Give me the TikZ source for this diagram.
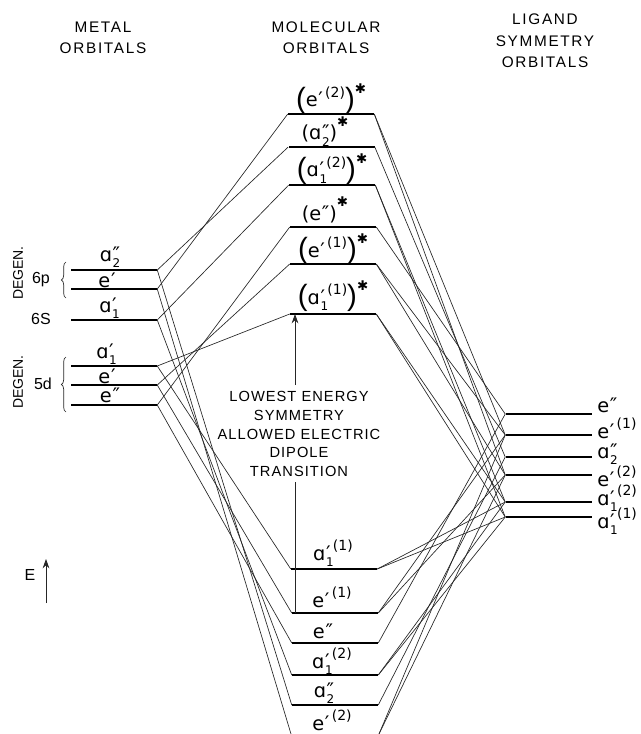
\documentclass[tikz,border=0pt]{standalone}
\usepackage{fontspec}
\setsansfont{DejaVu Sans}
\newfontfamily\capfont{Liberation Sans}
\usetikzlibrary{arrows.meta,decorations.pathreplacing}
% letter, subscript, prime, superscript
\newcommand{\orbl}[4]{#1\kern.5pt\rlap{\raisebox{-.36em}{\fontsize{9}{9}\selectfont #2}}{\fontsize{15}{15}\selectfont #3}\raisebox{.48em}{\fontsize{10.5}{10.5}\selectfont #4}}
\newcommand{\orbstar}{\raisebox{.72em}{\fontsize{10}{10}\selectfont ✱}}
\newcommand{\lbig}{\raisebox{-1pt}{\capfont\fontsize{22}{22}\selectfont(}}
\newcommand{\rbig}{\raisebox{-1pt}{\capfont\fontsize{22}{22}\selectfont)}}

\begin{document}
\begin{tikzpicture}[
  x=0.75pt,y=-0.75pt,
  level/.style={rectangle,fill=black,inner sep=0pt,minimum height=1.6pt,minimum width=64.5pt},
  conn/.style={black!85,line width=0.5pt},
  arr/.style={-{Stealth[length=7pt,width=5pt]},black!85,line width=0.6pt},
  head/.style={font=\capfont\fontsize{11.5}{16}\selectfont\addfontfeatures{LetterSpace=11},align=center,inner sep=0pt},
  note/.style={font=\capfont\fontsize{11}{14}\selectfont\addfontfeatures{LetterSpace=7},align=center,inner sep=1pt},
  orb/.style={font=\sffamily\fontsize{14.5}{17}\selectfont,inner sep=0pt,anchor=base},
  side/.style={font=\capfont\fontsize{12}{14}\selectfont,inner sep=0pt},
  degen/.style={font=\capfont\fontsize{10.5}{12}\selectfont,rotate=90,inner sep=0pt},
  brc/.style={black!85,line width=0.5pt,decorate,decoration={brace,amplitude=3.5pt}},
]
\useasboundingbox (0,0) rectangle (641,734);

% ---- column headings ----
\node[head] (hmetal) at (103,38) {METAL\\ORBITALS};
\node[head] (hmol) at (326,38) {MOLECULAR\\ORBITALS};
\node[head] (hlig) at (545,41) {LIGAND\\SYMMETRY\\ORBITALS};

% ---- metal orbitals ----
\node[level] (pa2) at (114,270) {};
\node[level] (pe1) at (114,289) {};
\node[level] (sa1) at (114,320) {};
\node[level] (da1) at (114,366) {};
\node[level] (de1) at (114,385) {};
\node[level] (de2) at (114,405) {};

\node[orb] (lpa2) at (110,261) {\orbl{ɑ}{2}{″}{}};
\node[orb] (lpe1) at (107,287) {\orbl{e}{}{′}{}};
\node[orb] (lsa1) at (108,312) {\orbl{ɑ}{1}{′}{}};
\node[orb] (lda1) at (105,358) {\orbl{ɑ}{1}{′}{}};
\node[orb] (lde1) at (107,383) {\orbl{e}{}{′}{}};
\node[orb] (lde2) at (110,402) {\orbl{e}{}{″}{}};

\node[side] (l6p) at (41,280) {6p};
\node[side] (l6s) at (41,319) {6S};
\node[side] (l5d) at (43,384) {5d};
\node[degen] (dgp) at (18,273) {DEGEN.};
\node[degen] (dgd) at (18,382) {DEGEN.};

\coordinate (bpb) at (66,298);
\coordinate (bpt) at (66,262);
\coordinate (bdb) at (66,412);
\coordinate (bdt) at (66,357);
\draw[brc] (bpb) -- (bpt);
\draw[brc] (bdb) -- (bdt);

% ---- molecular orbitals, upper set ----
\node[level] (ue2) at (331,114) {};
\node[level] (ua2) at (331.5,147) {};
\node[level] (ua12) at (332,185) {};
\node[level] (uepp) at (333,227) {};
\node[level] (ue1) at (333,264) {};
\node[level] (ua11) at (333,314) {};

\node[orb] (lue2) at (331,107) {\lbig\orbl{e}{}{′}{\,(2)}\rbig\orbstar};
\node[orb] (lua2) at (325,140) {(\orbl{ɑ}{2}{″}{})\orbstar};
\node[orb] (lua12) at (332,177) {\lbig\orbl{ɑ}{1}{′}{\,(2)}\rbig\orbstar};
\node[orb] (luepp) at (325,220) {(\orbl{e}{}{″}{})\orbstar};
\node[orb] (lue1) at (333,257) {\lbig\orbl{e}{}{′}{\,(1)}\rbig\orbstar};
\node[orb] (lua11) at (333,304) {\lbig\orbl{ɑ}{1}{′}{\,(1)}\rbig\orbstar};

% ---- molecular orbitals, lower set ----
\node[level] (wa11) at (334,569) {};
\node[level] (we1) at (335,613) {};
\node[level] (wepp) at (335,643) {};
\node[level] (wa12) at (335,675) {};
\node[level] (wa2) at (335,705) {};
\coordinate (we2l) at (291,734);
\coordinate (we2r) at (379,734);

\node[orb] (lwa11) at (333,560) {\orbl{ɑ}{1}{′}{\,(1)}};
\node[orb] (lwe1) at (332,607) {\orbl{e}{}{′}{\,(1)}};
\node[orb] (lwepp) at (323,638) {\orbl{e}{}{″}{}};
\node[orb] (lwa12) at (332,668) {\orbl{ɑ}{1}{′}{\,(2)}};
\node[orb] (lwa2) at (324,697) {\orbl{ɑ}{2}{″}{}};
\node[orb] (lwe2) at (332,730) {\orbl{e}{}{′}{\,(2)}};

% ---- ligand symmetry orbitals ----
\node[level] (gepp) at (548.5,414) {};
\node[level] (ge1) at (548.5,435) {};
\node[level] (ga2) at (548.5,457) {};
\node[level] (ge2) at (548.5,475) {};
\node[level] (ga12) at (548.5,502) {};
\node[level] (ga11) at (548.5,517) {};

\node[orb,anchor=base west] (lgepp) at (597,412) {\orbl{e}{}{″}{}};
\node[orb,anchor=base west] (lge1) at (597,438) {\orbl{e}{}{′}{\,(1)}};
\node[orb,anchor=base west] (lga2) at (597,458) {\orbl{ɑ}{2}{″}{}};
\node[orb,anchor=base west] (lge2) at (597,486) {\orbl{e}{}{′}{\,(2)}};
\node[orb,anchor=base west] (lga12) at (597,505) {\orbl{ɑ}{1}{′}{\,(2)}};
\node[orb,anchor=base west] (lga11) at (597,528) {\orbl{ɑ}{1}{′}{\,(1)}};

% ---- metal to molecular ----
\draw[conn] (pa2.east) -- (ua2.west);
\draw[conn] (pe1.east) -- (ue2.west);
\draw[conn] (sa1.east) -- (ua12.west);
\draw[conn] (da1.east) -- (ua11.west);
\draw[conn] (de1.east) -- (ue1.west);
\draw[conn] (de2.east) -- (uepp.west);
\draw[conn] (pa2.east) -- (wa2.west);
\draw[conn] (pe1.east) -- (we2l);
\draw[conn] (sa1.east) -- (wa12.west);
\draw[conn] (da1.east) -- (wa11.west);
\draw[conn] (de1.east) -- (we1.west);
\draw[conn] (de2.east) -- (wepp.west);

% ---- molecular to ligand ----
\draw[conn] (ue2.east) -- (ge1.west);
\draw[conn] (ue2.east) -- (ge2.west);
\draw[conn] (ua2.east) -- (ga2.west);
\draw[conn] (ua12.east) -- (ga12.west);
\draw[conn] (ua12.east) -- (ga11.west);
\draw[conn] (uepp.east) -- (gepp.west);
\draw[conn] (ue1.east) -- (ge1.west);
\draw[conn] (ue1.east) -- (ge2.west);
\draw[conn] (ua11.east) -- (ga12.west);
\draw[conn] (ua11.east) -- (ga11.west);
\draw[conn] (wa11.east) -- (ga12.west);
\draw[conn] (wa11.east) -- (ga11.west);
\draw[conn] (we1.east) -- (ge1.west);
\draw[conn] (we1.east) -- (ge2.west);
\draw[conn] (wepp.east) -- (gepp.west);
\draw[conn] (wa12.east) -- (ga12.west);
\draw[conn] (wa12.east) -- (ga11.west);
\draw[conn] (wa2.east) -- (ga2.west);
\draw[conn] (we2r) -- (ge1.west);
\draw[conn] (we2r) -- (ge2.west);

% ---- transition arrow and its text ----
\node[note] (trans) at (299,434) {LOWEST ENERGY\\SYMMETRY\\ALLOWED ELECTRIC\\DIPOLE\\TRANSITION};
\coordinate (tup) at (295,385);
\coordinate (ttop) at (295,314);
\coordinate (tlow) at (295,482);
\coordinate (tbot) at (295,613);
\draw[arr] (tup) -- (ttop);
\draw[conn] (tbot) -- (tlow);

% ---- energy axis ----
\node[side] (lene) at (30,575) {E};
\coordinate (eaxb) at (46,603);
\coordinate (eaxt) at (46,559);
\draw[arr] (eaxb) -- (eaxt);
\end{tikzpicture}
\end{document}
